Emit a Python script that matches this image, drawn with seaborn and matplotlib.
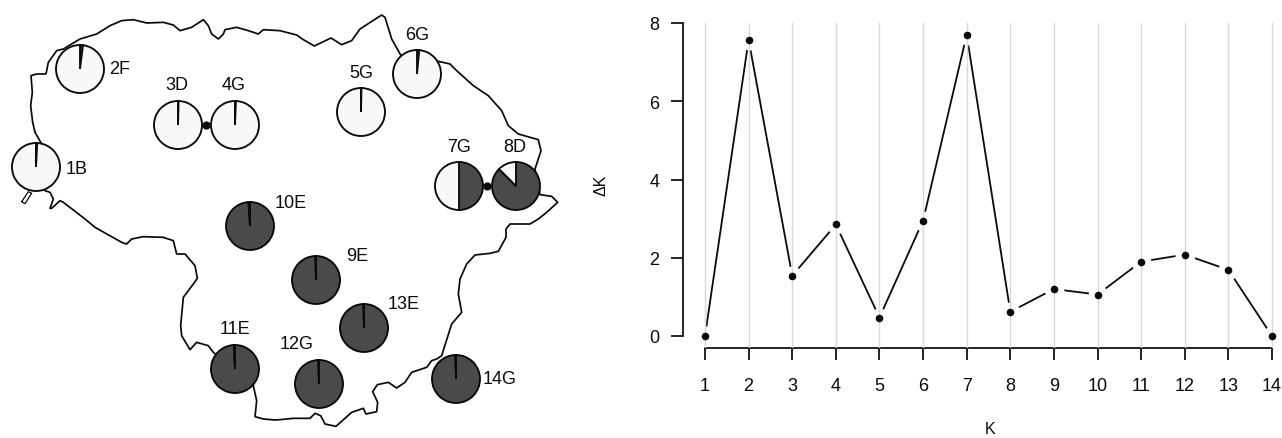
import numpy as np
import pandas as pd
import matplotlib
matplotlib.use("Agg")
import matplotlib.pyplot as plt
import seaborn as sns

# ---- Delta K data ----
k_values = list(range(1, 15))
delta_k = [0, 7.57, 1.54, 2.85, 0.47, 2.95, 7.70, 0.62, 1.20, 1.06, 1.90, 2.08, 1.69, 0]

# ---- Sampling sites ----
site_labels = ["1B", "2F", "3D", "4G", "5G", "6G", "7G", "8D", "9E", "10E", "11E", "12G", "13E", "14G"]
site_x = [36, 80, 178, 235, 361, 417, 459, 516, 316, 250, 235, 319, 364, 456]
site_y = [168, 70, 126, 126, 113, 75, 187, 187, 281, 227, 370, 385, 329, 380]
label_x = [77, 120, 177, 234, 361, 417, 459, 515, 357, 291, 235, 297, 404, 500]
label_y = [170, 70, 86, 86, 73, 36, 148, 148, 257, 204, 330, 345, 305, 380]
# clockwise from the top: dark share, light share
dark_share = [0.008, 0.02, 0.004, 0.006, 0.003, 0.015, 0.5, 0.875, 0.996, 0.99, 0.992, 0.995, 0.996, 0.996]
linked_pairs = [(206, 126), (487, 187)]

# ---- Border, traced at 3x zoom, in groups with the same zoom origin ----
nw_zx = [105, 98, 92, 97, 93, 110, 138, 145, 170, 190, 215, 240, 290, 330, 365, 400, 440, 490, 520, 540, 575, 610, 625, 635, 655, 670, 675, 710, 745, 775, 790, 840]
nw_zy = [400, 370, 320, 280, 230, 225, 225, 190, 155, 150, 135, 120, 105, 80, 65, 62, 72, 70, 78, 95, 85, 62, 80, 105, 120, 105, 92, 85, 95, 105, 92, 95]
ne_zx = [50, 70, 103, 153, 185, 215, 240, 305, 315, 335, 362, 480, 510, 530, 580, 625, 665, 685, 715, 775, 783, 765, 780, 815, 833, 800, 775]
ne_zy = [108, 122, 141, 117, 137, 125, 90, 48, 55, 120, 168, 188, 195, 215, 260, 290, 335, 380, 405, 422, 455, 510, 587, 592, 610, 640, 660]
se_zx = [750, 690, 678, 678, 655, 630, 585, 560, 540, 535, 545, 515, 485, 470, 455, 440, 395, 375, 350, 325, 292, 278, 293, 290, 258, 250, 215, 168, 135, 122, 105, 90, 40, 0]
se_zy = [15, 15, 30, 55, 97, 103, 108, 135, 180, 225, 280, 315, 410, 420, 425, 445, 460, 490, 507, 490, 497, 518, 550, 578, 585, 568, 580, 622, 615, 590, 583, 598, 598, 602]
sw_zx = [825, 790, 765, 770, 760, 640, 625, 590, 570, 545, 542, 550, 580, 592, 585, 555, 530, 520, 490, 430, 395, 380, 365, 285, 255]
sw_zy = [603, 600, 593, 545, 500, 400, 380, 370, 392, 350, 320, 235, 195, 178, 140, 105, 105, 65, 55, 53, 60, 75, 70, 25, 0]
w_zx = [190, 180, 155, 150, 160, 150, 135, 115, 125, 105]
w_zy = [610, 605, 628, 628, 600, 580, 575, 530, 435, 400]
spit_zx = [65, 75, 95, 85, 65]
spit_zy = [608, 614, 583, 578, 608]

LIGHT, DARK, INK = "#f8f8f8", "#4a4a4a", "#0a0a0a"
W, H = 1282, 439

sns.set_theme(style="white")
plt.rcParams["font.family"] = ["Liberation Sans", "DejaVu Sans"]
plt.rcParams["text.color"] = INK
fig = plt.figure(figsize=(W / 100, H / 100), dpi=100, facecolor="white")

# ---------- Map panel ----------
map_w = 620
mp = fig.add_axes([0, 0, map_w / W, 1])
border_x = np.concatenate([np.array(nw_zx) / 3, 280 + np.array(ne_zx) / 3,
                           280 + np.array(se_zx) / 3, np.array(sw_zx) / 3, np.array(w_zx) / 3])
border_y = np.concatenate([np.array(nw_zy) / 3, np.array(ne_zy) / 3,
                           220 + np.array(se_zy) / 3, 220 + np.array(sw_zy) / 3, np.array(w_zy) / 3])
for sx, sy, d in zip(site_x, site_y, dark_share):
    mp.pie([d, 1 - d], colors=[DARK, LIGHT], center=(sx, sy), radius=24,
           startangle=270, counterclock=True,
           wedgeprops=dict(edgecolor=INK, linewidth=1.35, zorder=4))
mp.plot(border_x, border_y, color=INK, lw=1.25, zorder=1, solid_joinstyle="round")
mp.plot(np.array(spit_zx) / 3, np.array(spit_zy) / 3, color=INK, lw=0.9, zorder=1)
px, py = zip(*linked_pairs)
mp.scatter(px, py, s=24, color=INK, zorder=5)
for lab, lx, ly in zip(site_labels, label_x, label_y):
    mp.text(lx, ly, lab, ha="center", va="center", fontsize=13, zorder=6)
mp.set_xlim(0, map_w)
mp.set_ylim(H, 0)
mp.set_aspect("equal")
mp.axis("off")

# ---------- Delta K panel ----------
ax_l, ax_r, ax_t, ax_b = 683, 1282, 24, 349
x1_px, x14_px = 705, 1272
y0_px, y8_px = 337, 24
ax = fig.add_axes([ax_l / W, 1 - ax_b / H, (ax_r - ax_l) / W, (ax_b - ax_t) / H])
sx_scale = (x14_px - x1_px) / 13
sy_scale = (y0_px - y8_px) / 8
ax.set_xlim(1 - (x1_px - ax_l) / sx_scale, 14 + (ax_r - x14_px) / sx_scale)
ax.set_ylim(-(ax_b - y0_px) / sy_scale, 8)

df = pd.DataFrame({"K": k_values, "dK": delta_k})
sns.lineplot(data=df, x="K", y="dK", color=INK, lw=1.3, ax=ax, zorder=2)
sns.scatterplot(data=df, x="K", y="dK", color="white", s=205, linewidth=0, ax=ax, zorder=3, clip_on=False)
for k in k_values:
    ax.axvline(k, color="#d9d9d9", lw=1.0, zorder=4)
sns.scatterplot(data=df, x="K", y="dK", color=INK, s=30, linewidth=0, ax=ax, zorder=5, clip_on=False)

for s in ("top", "right"):
    ax.spines[s].set_visible(False)
for s in ("left", "bottom"):
    ax.spines[s].set_color(INK)
    ax.spines[s].set_linewidth(1.25)
ax.spines["left"].set_bounds(0, 8)
ax.spines["bottom"].set_bounds(1, 14)
ax.set_xticks(k_values)
ax.set_yticks([0, 2, 4, 6, 8])
ax.tick_params(axis="x", length=8.6, width=1.25, color=INK, labelsize=13, pad=12, bottom=True, labelcolor=INK)
ax.tick_params(axis="y", length=8.6, width=1.25, color=INK, labelsize=13, pad=8.5, left=True, labelcolor=INK)
ax.set_xlabel("K", fontsize=11.5, color=INK)
ax.set_ylabel("ΔK", fontsize=11.5, color=INK)
ax.xaxis.set_label_coords((990 - ax_l) / (ax_r - ax_l), (ax_b - 430) / (ax_b - ax_t), transform=ax.transAxes)
ax.yaxis.set_label_coords((601 - ax_l) / (ax_r - ax_l), (ax_b - 185) / (ax_b - ax_t), transform=ax.transAxes)
ax.xaxis.label.set_va("center")
ax.yaxis.label.set_va("center")
ax.patch.set_alpha(0)

fig.savefig("out.png", dpi=100)
